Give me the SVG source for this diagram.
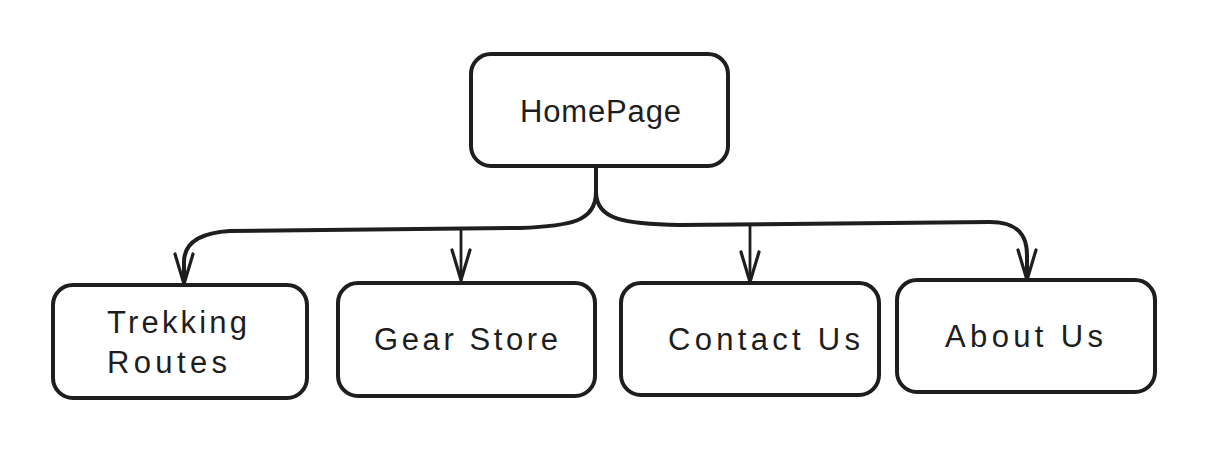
<svg xmlns="http://www.w3.org/2000/svg" width="1227" height="464" viewBox="0 0 1227 464">
  <defs>
    <style>
      .box { fill: #ffffff; stroke: #1e1e1e; stroke-width: 4; stroke-linejoin: round; }
      .lbl { font-family: "Liberation Sans", "DejaVu Sans", sans-serif; font-size: 31px; fill: #1e1e1e; }
      .wire { fill: none; stroke: #1e1e1e; stroke-width: 4; stroke-linecap: round; stroke-linejoin: round; }
      .thin { stroke-width: 2.8; }
    </style>
    <marker id="arrow" markerUnits="userSpaceOnUse" orient="auto" overflow="visible" refX="0" refY="0" markerWidth="30" markerHeight="24">
      <path d="M -30 -9 L 0 0 L -30 9" fill="none" stroke="#1e1e1e" stroke-width="3.2" stroke-linecap="round" stroke-linejoin="round"/>
    </marker>
  </defs>

  <rect width="1227" height="464" fill="#ffffff"/>

  <!-- connectors -->
  <g id="connectors">
    <path class="wire" d="M 596 168 L 596 192 C 596 222, 570 226, 520 228 L 230 231 C 196 233, 184 245, 184 262 L 184 284" marker-end="url(#arrow)"/>
    <path class="wire" d="M 596 192 C 596 220, 625 224, 680 225 L 990 222 C 1018 222, 1027 235, 1027 255 L 1027 280" marker-end="url(#arrow)"/>
    <path class="wire thin" d="M 461 229 L 461 280" marker-end="url(#arrow)"/>
    <path class="wire thin" d="M 750 226 L 750 282" marker-end="url(#arrow)"/>
  </g>

  <!-- nodes -->
  <g id="home">
    <rect class="box" x="471" y="54" width="257" height="112" rx="20"/>
    <text class="lbl" x="520" y="122" textLength="161" lengthAdjust="spacing">HomePage</text>
  </g>
  <g id="trekking">
    <rect class="box" x="53" y="285" width="254" height="113" rx="20"/>
    <text class="lbl" x="107" y="333" textLength="140" lengthAdjust="spacing">Trekking</text>
    <text class="lbl" x="107" y="373" textLength="120" lengthAdjust="spacing">Routes</text>
  </g>
  <g id="gear">
    <rect class="box" x="338" y="283" width="257" height="113" rx="20"/>
    <text class="lbl" x="374" y="350" textLength="184" lengthAdjust="spacing">Gear Store</text>
  </g>
  <g id="contact">
    <rect class="box" x="621" y="283" width="258" height="112" rx="20"/>
    <text class="lbl" x="668" y="350" textLength="192" lengthAdjust="spacing">Contact Us</text>
  </g>
  <g id="about">
    <rect class="box" x="897" y="280" width="258" height="112" rx="20"/>
    <text class="lbl" x="945" y="347" textLength="158" lengthAdjust="spacing">About Us</text>
  </g>
</svg>
